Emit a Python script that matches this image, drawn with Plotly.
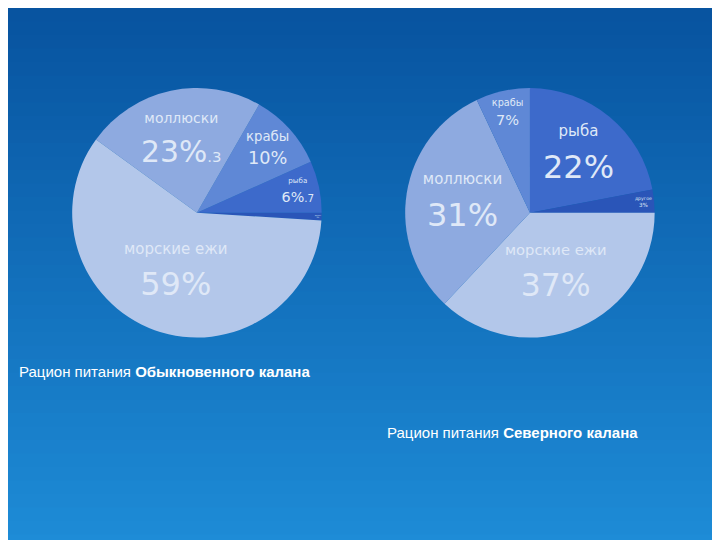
import plotly.graph_objects as go

left_labels = ["другое", "рыба", "крабы", "моллюски", "морские ежи"]
left_values = [1, 6.7, 10, 23.3, 59]
left_pct = ["1%", "6%<span style='font-size:13px'>.7</span>", "10%", "23%<span style='font-size:16px'>.3</span>", "59%"]

right_labels = ["рыба", "другое", "морские ежи", "моллюски", "крабы"]
right_values = [22, 3, 37, 31, 7]
right_pct = ["22%", "3%", "37%", "31%", "7%"]

colors = {"другое": "#2a55b8", "рыба": "#3d6acb", "крабы": "#5f88d6",
          "моллюски": "#8eaae0", "морские ежи": "#b3c7ea"}

def texts(labels, pcts, lsz):
    return [f"<span style='font-size:{a}px'>{l}</span><br>{p}"
            for l, p, a in zip(labels, pcts, lsz)]

fig = go.Figure()
top = (8, 84, 160); bot = (30, 140, 215)
n = 40
for i in range(n):
    t = i / (n - 1)
    c = tuple(int(top[k] + (bot[k] - top[k]) * t) for k in range(3))
    fig.add_shape(type="rect", xref="paper", yref="paper", x0=-0.02, x1=1.02,
                  y0=1 - (i + 1) / n - 0.001, y1=1 - i / n + 0.02 * (i == 0),
                  fillcolor=f"rgb{c}", line_width=0, layer="below")

dx = 8 / 720
dy = 8 / 540
fig.add_trace(go.Pie(
    labels=left_labels, values=left_values, sort=False, direction="counterclockwise",
    rotation=90, domain=dict(x=[0.1 - dx, 0.447 - dx], y=[0.375 + dy, 0.837 + dy]),
    marker=dict(colors=[colors[l] for l in left_labels], line=dict(width=0)),
    text=texts(left_labels, left_pct, [7, 9, 15, 15, 15]),
    textinfo="text", textposition="inside", insidetextorientation="horizontal",
    textfont=dict(color="#dfe8f7", family="DejaVu Sans", size=[7, 18, 20, 32, 32]),
    showlegend=False, hoverinfo="label+value"))

fig.add_trace(go.Pie(
    labels=right_labels, values=right_values, sort=False, direction="clockwise",
    rotation=0, domain=dict(x=[0.562 - dx, 0.91 - dx], y=[0.375 + dy, 0.837 + dy]),
    marker=dict(colors=[colors[l] for l in right_labels], line=dict(width=0)),
    text=texts(right_labels, right_pct, [15, 10, 15, 15, 10]),
    textinfo="text", textposition="inside", insidetextorientation="horizontal",
    textfont=dict(color="#dfe8f7", family="DejaVu Sans", size=[32, 12, 32, 32, 15]),
    showlegend=False, hoverinfo="label+value"))

fig.add_annotation(x=9/720, y=1-374/540, xref="paper", yref="paper", xanchor="left",
                   showarrow=False, font=dict(color="white", size=15, family="Liberation Sans"),
                   text="Рацион питания <b>Обыкновенного калана</b>")
fig.add_annotation(x=377/720, y=1-435/540, xref="paper", yref="paper", xanchor="left",
                   showarrow=False, font=dict(color="white", size=15, family="Liberation Sans"),
                   text="Рацион питания <b>Северного калана</b>")

fig.update_layout(width=720, height=540, margin=dict(l=0, r=0, t=0, b=0),
                  paper_bgcolor="#0b5aa8", plot_bgcolor="rgba(0,0,0,0)")
fig.write_html("out.html")
